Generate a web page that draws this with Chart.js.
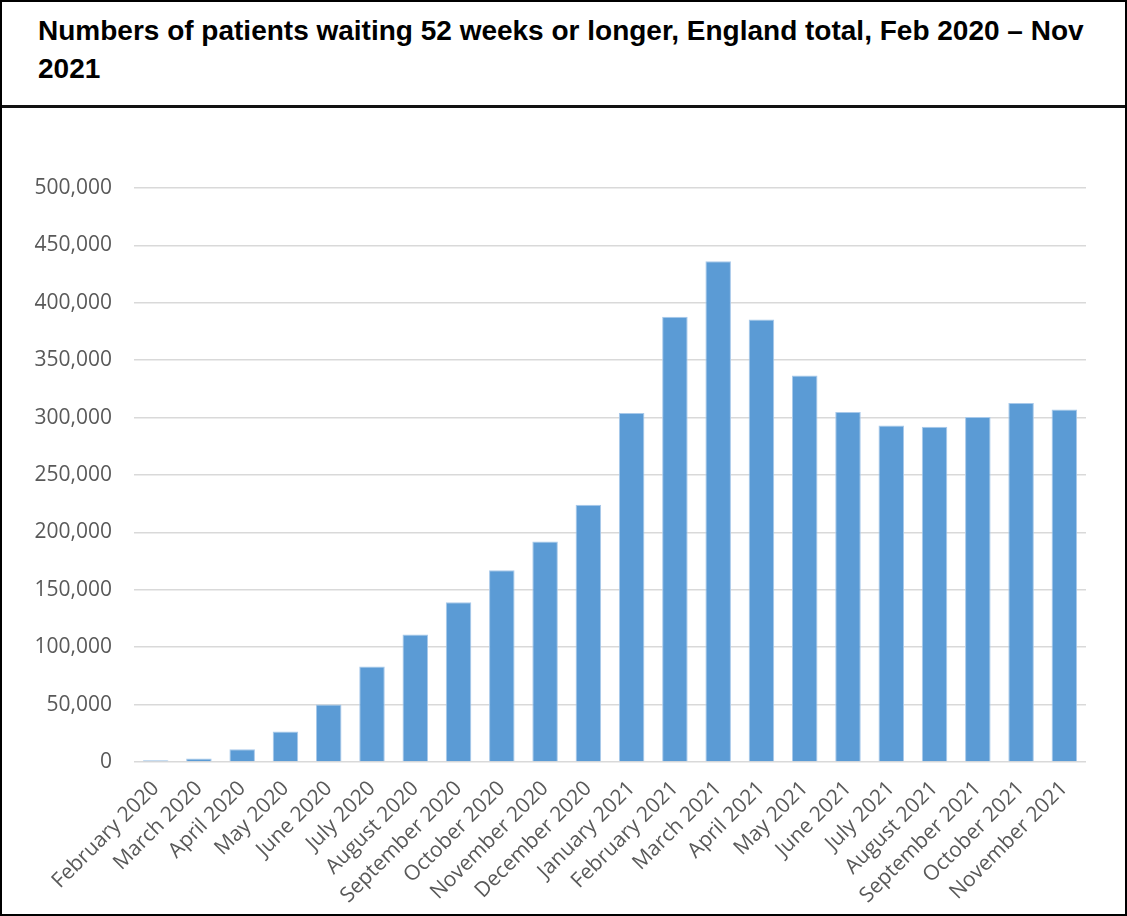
<!DOCTYPE html>
<html>
<head>
<meta charset="utf-8">
<script src="https://cdn.jsdelivr.net/npm/chart.js@4/dist/chart.umd.min.js"></script>
<style>
    html, body { margin: 0; padding: 0; background: #fff; }
    .frame {
        width: 1127px;
        height: 916px;
        box-sizing: border-box;
        border: 2px solid #000;
        position: relative;
    }
    .title {
        height: 106px;
        box-sizing: border-box;
        border-bottom: 3px solid #111;
        padding: 10px 0 0 36px;
        font-family: 'Liberation Sans', Arial, sans-serif;
        font-weight: bold;
        font-size: 28px;
        line-height: 38px;
        color: #000;
    }
    .plot {
        position: absolute;
        left: 0;
        top: 106px;
        width: 1123px;
        height: 806px;
    }
</style>
</head>
<body>
<div class="frame">
    <div class="title">Numbers of patients waiting 52 weeks or longer, England total, Feb 2020 – Nov<br>2021</div>
    <div class="plot"><canvas id="waiting-chart"></canvas></div>
</div>
<script>
const months = [
    'February 2020', 'March 2020', 'April 2020', 'May 2020', 'June 2020', 'July 2020',
    'August 2020', 'September 2020', 'October 2020', 'November 2020', 'December 2020',
    'January 2021', 'February 2021', 'March 2021', 'April 2021', 'May 2021', 'June 2021',
    'July 2021', 'August 2021', 'September 2021', 'October 2021', 'November 2021',
];

const patientsWaiting = [
    1613, 3097, 11042, 26548, 50175, 83203,
    111026, 139198, 167075, 192169, 224059,
    304044, 387885, 436127, 385490, 336733, 304803,
    293102, 292138, 300566, 312665, 306996,
];

const yTicks = [0, 50000, 100000, 150000, 200000, 250000, 300000, 350000, 400000, 450000, 500000];

const tickFont = { family: "'Open Sans', 'Liberation Sans', sans-serif", size: 21 };
const tickColor = '#595959';

new Chart(document.getElementById('waiting-chart'), {
    type: 'bar',
    data: {
        labels: months,
        datasets: [
            {
                label: 'Patients waiting 52+ weeks',
                data: patientsWaiting,
                backgroundColor: '#5b9bd5',
                borderColor: '#a8c9ea',
                borderWidth: 1,
                borderSkipped: 'bottom',
                categoryPercentage: 1,
                barPercentage: 0.59,
            },
        ],
    },
    options: {
        responsive: true,
        maintainAspectRatio: false,
        animation: false,
        layout: { padding: { top: 80, right: 39, bottom: 0, left: 0 } },
        plugins: {
            legend: { display: false },
            tooltip: { enabled: false },
        },
        scales: {
            x: {
                border: { display: false },
                grid: { display: false },
                afterFit: (scale) => { scale.height = 152; },
                ticks: {
                    color: tickColor,
                    font: tickFont,
                    autoSkip: false,
                    minRotation: 45,
                    maxRotation: 45,
                    padding: 6,
                },
            },
            y: {
                min: 0,
                max: 500000,
                border: { display: false },
                grid: { color: '#d9d9d9', lineWidth: 1.5, drawTicks: false },
                afterFit: (scale) => { scale.width = 132; },
                afterBuildTicks: (scale) => {
                    scale.ticks = yTicks.map((value) => ({ value }));
                },
                ticks: {
                    color: tickColor,
                    font: tickFont,
                    padding: 22,
                    callback: (value) => Number(value).toLocaleString('en-GB'),
                },
            },
        },
    },
});
</script>
</body>
</html>
